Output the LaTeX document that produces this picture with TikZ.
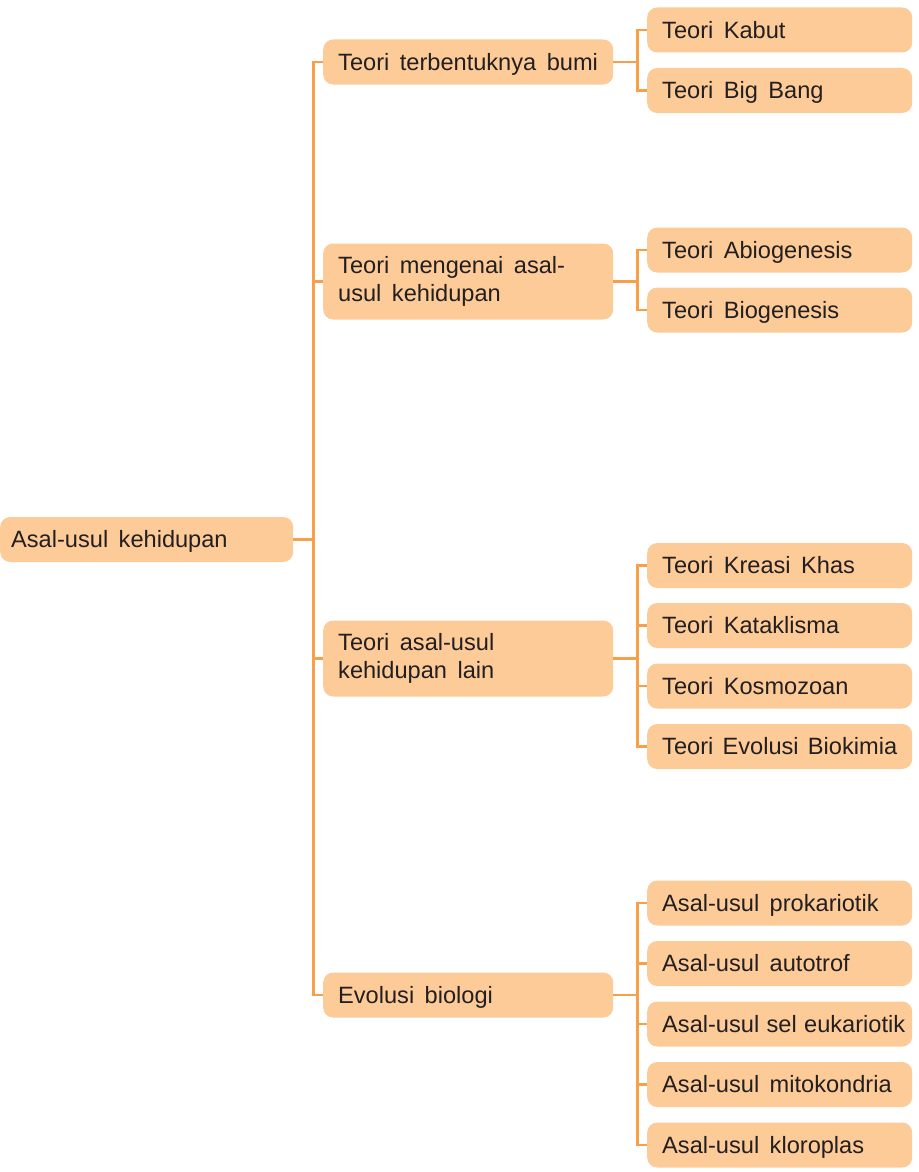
\documentclass[tikz,border=0pt]{standalone}
\usepackage{fontspec}
\setmainfont{Liberation Sans}
\usepackage{tikz}
\usetikzlibrary{arrows.meta,positioning,calc}
\definecolor{peach}{HTML}{FDCB98}
\definecolor{orng}{HTML}{F7A04A}
\definecolor{ink}{HTML}{231F20}

\begin{document}
\begin{tikzpicture}[x=1pt,y=-1pt,every node/.style={font=\fontsize{23.6}{28}\selectfont,text=ink,execute at begin node={\spaceskip=10.5pt plus 2pt minus 5pt\relax}},
  b/.style={fill=peach,rounded corners=10pt,anchor=west,align=left,inner xsep=15pt,inner ysep=0pt,minimum height=45pt},
  one/.style={text height=21.5pt,text depth=4.6pt},
  r/.style={b,one,inner xsep=11pt,text width=271pt},l1/.style={b,text width=260pt},l2/.style={b,one,text width=235pt},
  a/.style={draw=orng,line width=2.2pt}]
\useasboundingbox (0,0) rectangle (918,1172);
\node[r] (r) at (0,539.5) {Asal-usul kehidupan};
\node[l1,one] (t1) at (323,62) {Teori terbentuknya bumi};\node[l1,minimum height=76pt] (t2) at (323,281.5) {Teori mengenai asal-\\usul kehidupan};
\node[l1,minimum height=76pt] (t3) at (323,658.5) {Teori asal-usul\\kehidupan lain};\node[l1,one] (t4) at (323,995) {Evolusi biologi};
\node[l2] (k1) at (647,30) {Teori Kabut};\node[l2] (k2) at (647,90.5) {Teori Big Bang};
\node[l2] (h1) at (647,250) {Teori Abiogenesis};\node[l2] (h2) at (647,310) {Teori Biogenesis};
\node[l2] (g1) at (647,565.5) {Teori Kreasi Khas};\node[l2] (g2) at (647,625.5) {Teori Kataklisma};
\node[l2] (g3) at (647,686) {Teori Kosmozoan};\node[l2] (g4) at (647,746.5) {Teori Evolusi Biokimia};
\node[l2] (e1) at (647,903) {Asal-usul prokariotik};\node[l2] (e2) at (647,963.5) {Asal-usul autotrof};
\node[l2] (e3) at (647,1024) {\hbox to 243pt{Asal-usul sel eukariotik}};\node[l2] (e4) at (647,1084.5) {Asal-usul mitokondria};
\node[l2] (e5) at (647,1145) {Asal-usul kloroplas};
\foreach \c in {t1,t2,t3,t4} \draw[a] (r.east) -- ++(20,0) |- (\c.west);
\foreach \c in {k1,k2} \draw[a] (t1.east) -- ++(24,0) |- (\c.west);
\foreach \c in {h1,h2} \draw[a] (t2.east) -- ++(24,0) |- (\c.west);
\foreach \c in {g1,g2,g3,g4} \draw[a] (t3.east) -- ++(24,0) |- (\c.west);
\foreach \c in {e1,e2,e3,e4,e5} \draw[a] (t4.east) -- ++(24,0) |- (\c.west);
\end{tikzpicture}
\end{document}
